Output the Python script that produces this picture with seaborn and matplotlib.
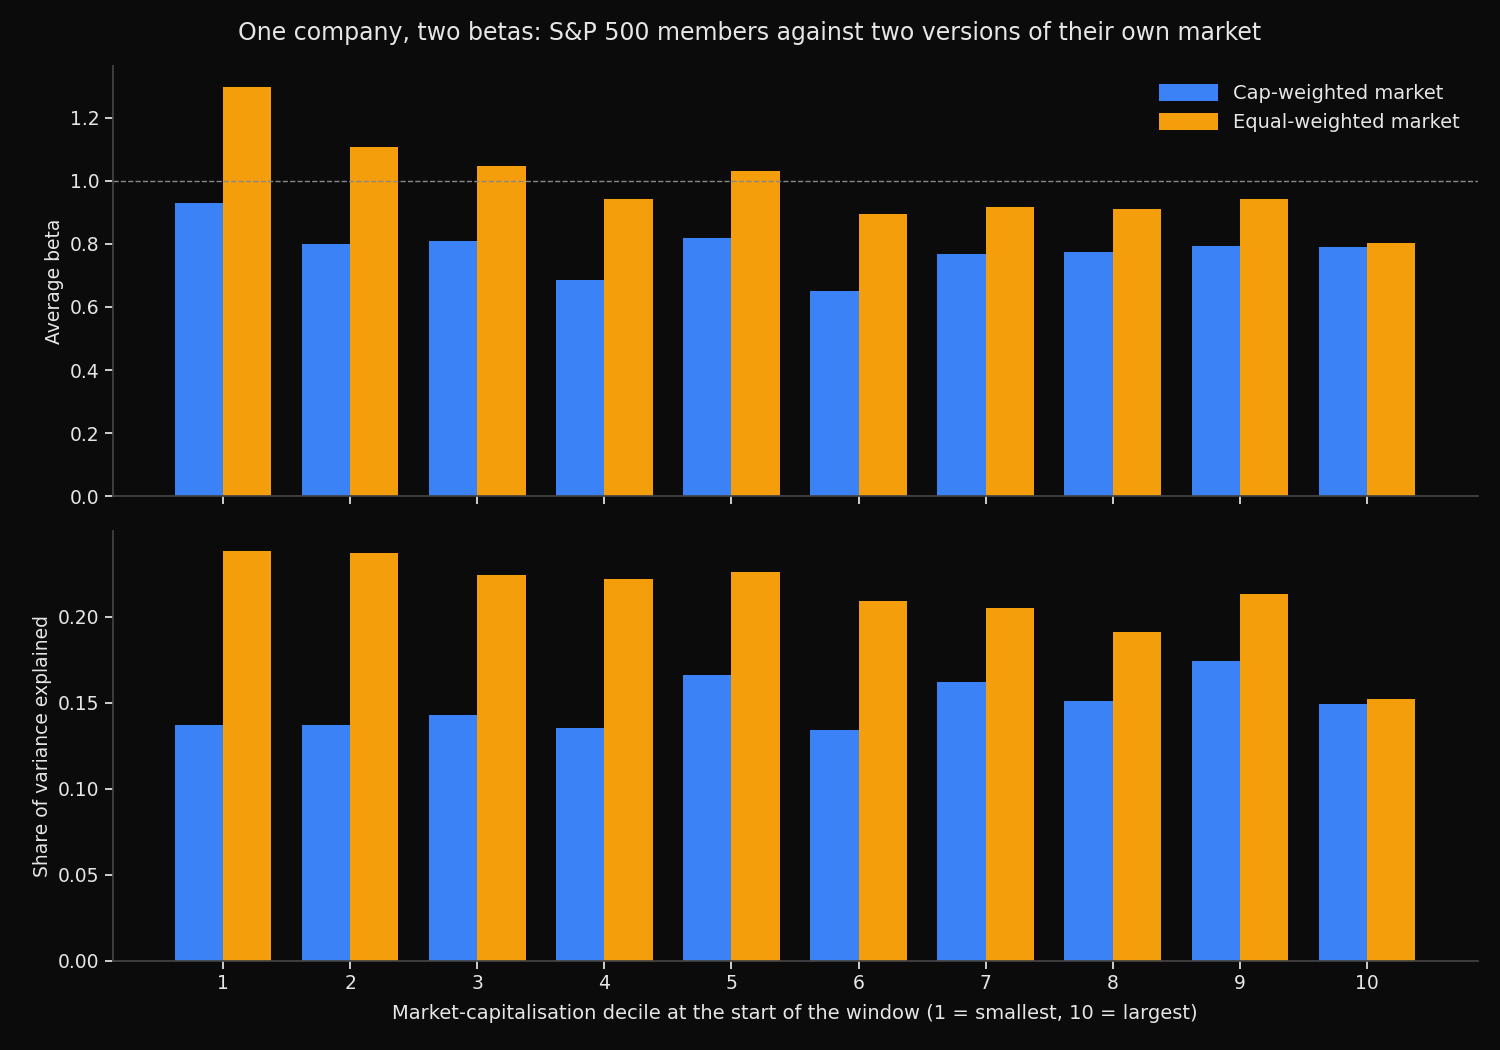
import pandas as pd
import seaborn as sns
import matplotlib.pyplot as plt

deciles = [1, 2, 3, 4, 5, 6, 7, 8, 9, 10]
beta_cap = [0.930, 0.800, 0.810, 0.686, 0.819, 0.651, 0.768, 0.775, 0.794, 0.790]
beta_eq = [1.298, 1.108, 1.048, 0.943, 1.032, 0.895, 0.917, 0.911, 0.943, 0.803]
r2_cap = [0.137, 0.137, 0.143, 0.135, 0.166, 0.134, 0.162, 0.151, 0.174, 0.149]
r2_eq = [0.238, 0.237, 0.224, 0.222, 0.226, 0.209, 0.205, 0.191, 0.213, 0.152]
series = ["Cap-weighted market", "Equal-weighted market"]

bg = "#0b0b0b"
fg = "#e6e6e6"
sns.set_theme(style="dark", rc={
    "figure.facecolor": bg, "axes.facecolor": bg, "axes.edgecolor": "#444444",
    "text.color": fg, "axes.labelcolor": fg, "xtick.color": fg, "ytick.color": fg,
    "axes.grid": False, "xtick.bottom": True, "ytick.left": True,
})
plt.rcParams['font.family'] = ['DejaVu Sans']

beta_df = pd.DataFrame({"decile": deciles * 2, "market": [series[0]] * 10 + [series[1]] * 10,
                        "value": beta_cap + beta_eq})
r2_df = pd.DataFrame({"decile": deciles * 2, "market": [series[0]] * 10 + [series[1]] * 10,
                      "value": r2_cap + r2_eq})
pal = {series[0]: "#3b82f6", series[1]: "#f59e0b"}

fig, (ax1, ax2) = plt.subplots(2, 1, figsize=(15, 10.5), dpi=100, sharex=True)
sns.barplot(data=beta_df, x="decile", y="value", hue="market", palette=pal, ax=ax1,
            width=0.76, saturation=1, edgecolor="none")
sns.barplot(data=r2_df, x="decile", y="value", hue="market", palette=pal, ax=ax2,
            width=0.76, saturation=1, edgecolor="none", legend=False)

ax1.axhline(1.0, color="#888888", linestyle="--", linewidth=1)
ax1.set_ylabel("Average beta", fontsize=13.5)
ax1.set_xlabel("")
ax1.tick_params(labelsize=13.5)
leg = ax1.legend(title=None, frameon=False, fontsize=14, loc="upper right",
                 handlelength=3, handleheight=1.0)
for t in leg.get_texts():
    t.set_color(fg)

ax2.set_ylabel("Share of variance explained", fontsize=13.5)
ax2.set_xlabel("Market-capitalisation decile at the start of the window (1 = smallest, 10 = largest)",
               fontsize=14, labelpad=8)
ax2.tick_params(labelsize=13.5)
ax2.set_xlim(-0.87, 9.87)

for ax in (ax1, ax2):
    sns.despine(ax=ax)
    ax.spines["left"].set_color("#444444")
    ax.spines["bottom"].set_color("#444444")

fig.suptitle("One company, two betas: S&P 500 members against two versions of their own market",
             fontsize=17, color=fg, y=0.98)
fig.subplots_adjust(left=0.075, right=0.985, top=0.937, bottom=0.085, hspace=0.08)
fig.savefig("out.png", facecolor=bg)
